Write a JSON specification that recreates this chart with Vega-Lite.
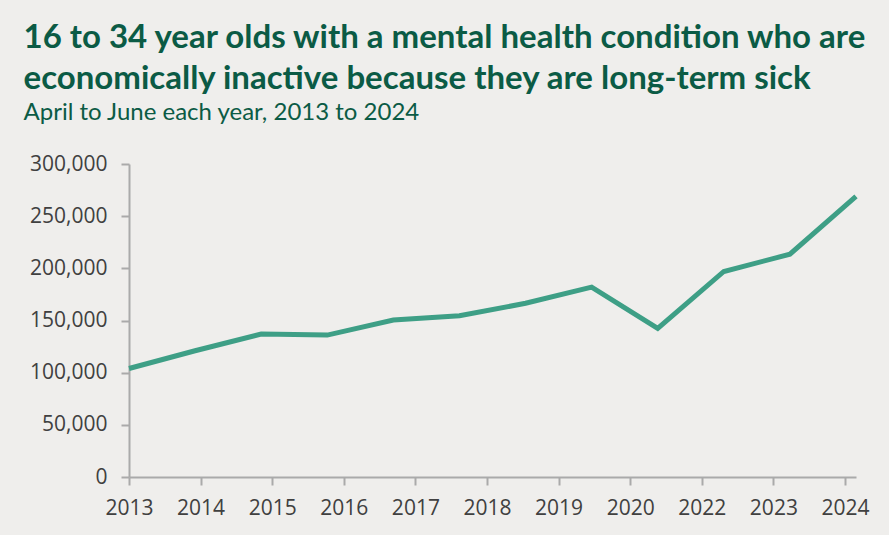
{
  "$schema": "https://vega.github.io/schema/vega-lite/v6.json",
  "width": 727,
  "height": 313,
  "autosize": {"type": "none"},
  "padding": {"left": 129, "top": 164, "right": 33, "bottom": 58},
  "background": "#efeeec",
  "config": {"view": {"stroke": null}},
  "title": {
    "text": ["16 to 34 year olds with a mental health condition who are", "economically inactive because they are long-term sick"],
    "subtitle": "April to June each year, 2013 to 2024",
    "anchor": "start",
    "frame": "bounds",
    "font": "Lato",
    "fontSize": 33,
    "fontWeight": "bold",
    "color": "#0b5b45",
    "lineHeight": 41,
    "subtitleFont": "Lato",
    "subtitleFontSize": 24,
    "subtitleColor": "#0b5b45",
    "subtitlePadding": 5,
    "offset": 28,
    "dx": -6
  },
  "layer": [
    {
      "data": {"values": [
        {"year": 2013, "value": 104000},
        {"year": 2014, "value": 121000},
        {"year": 2015, "value": 137000},
        {"year": 2016, "value": 136000},
        {"year": 2017, "value": 150500},
        {"year": 2018, "value": 154500},
        {"year": 2019, "value": 166500},
        {"year": 2020, "value": 182000},
        {"year": 2021, "value": 142500},
        {"year": 2022, "value": 197000},
        {"year": 2023, "value": 213500},
        {"year": 2024, "value": 269000}
      ]},
      "mark": {"type": "line", "color": "#3e9f86", "strokeWidth": 5, "strokeJoin": "miter"},
      "encoding": {
        "x": {"field": "year", "type": "quantitative", "scale": {"domain": [2013, 2024], "nice": false, "zero": false}, "axis": null},
        "y": {"field": "value", "type": "quantitative", "scale": {"domain": [0, 300000], "nice": false},
          "axis": {"values": [0, 50000, 100000, 150000, 200000, 250000, 300000], "format": ",d", "title": null, "grid": false,
            "domainColor": "#aaaaaa", "domainWidth": 2, "tickColor": "#aaaaaa", "tickWidth": 2, "tickSize": 8,
            "labelFont": "Open Sans", "labelFontSize": 21, "labelColor": "#404040", "labelPadding": 14}}
      }
    },
    {
      "data": {"values": [
        {"label": "2013"}, {"label": "2014"}, {"label": "2015"}, {"label": "2016"}, {"label": "2017"}, {"label": "2018"},
        {"label": "2019"}, {"label": "2020"}, {"label": "2022"}, {"label": "2023"}, {"label": "2024"}
      ]},
      "mark": {"type": "point", "opacity": 0},
      "encoding": {
        "x": {"field": "label", "type": "ordinal", "sort": null, "scale": {"type": "point", "padding": 0.077, "align": 0},
          "axis": {"title": null, "labelAngle": 0, "domainColor": "#aaaaaa", "domainWidth": 2, "tickColor": "#aaaaaa", "tickWidth": 2, "tickSize": 8,
            "labelFont": "Open Sans", "labelFontSize": 21, "labelColor": "#404040", "labelPadding": 12}}
      }
    }
  ],
  "resolve": {"scale": {"x": "independent"}}
}
